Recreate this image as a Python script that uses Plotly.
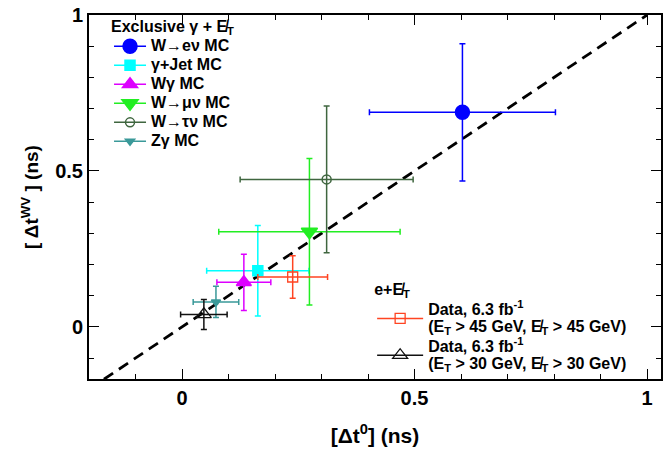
import plotly.graph_objects as go

# MC samples (Exclusive gamma + MET)
mc_names = ["W→eν MC", "γ+Jet MC", "Wγ MC", "W→μν MC", "W→τν MC", "Zγ MC"]
mc_x = [0.603, 0.163, 0.133, 0.274, 0.311, 0.073]
mc_y = [0.688, 0.180, 0.143, 0.305, 0.473, 0.080]
mc_xerr = [0.200, 0.110, 0.058, 0.195, 0.186, 0.049]
mc_yerr = [0.220, 0.145, 0.090, 0.235, 0.235, 0.050]
mc_colors = ["#0000ff", "#00ffff", "#dd00ff", "#22ee22", "#3f663f", "#3a9999"]
mc_symbols = ["circle", "square", "triangle-up", "triangle-down", "circle-open", "triangle-down"]
mc_sizes = [14, 10, 13, 14, 9, 8]

# Data (e + MET)
data_lines1 = ["Data, 6.3 fb<sup>-1</sup>", "Data, 6.3 fb<sup>-1</sup>"]
data_lines2 = ["(E<sub>T</sub> > 45 GeV, E̸<sub>T</sub> > 45 GeV)",
               "(E<sub>T</sub> > 30 GeV, E̸<sub>T</sub> > 30 GeV)"]
data_x = [0.238, 0.047]
data_y = [0.160, 0.040]
data_xerr = [0.075, 0.050]
data_yerr = [0.068, 0.048]
data_colors = ["#ff4422", "#111111"]
data_symbols = ["square-open", "triangle-up-open"]
data_sizes = [10, 13]

diag = [-0.2, 1.0]


def big(t, size=16):
    return f'<span style="font-size:{size}px">{t}</span>'


fig = go.Figure()
fig.add_trace(go.Scatter(x=diag, y=diag, mode="lines", showlegend=False,
                         line=dict(color="black", width=2.8, dash="11px,7px")))

for n, x, y, ex, ey, c, s, sz in zip(mc_names, mc_x, mc_y, mc_xerr, mc_yerr,
                                     mc_colors, mc_symbols, mc_sizes):
    fig.add_trace(go.Scatter(
        x=[x], y=[y], mode="lines+markers", name=big(n), legend="legend",
        line=dict(color=c, width=1.5),
        marker=dict(symbol=s, size=sz, color=c, line=dict(color=c, width=1.5)),
        error_x=dict(type="constant", value=ex, color=c, thickness=1.5, width=3),
        error_y=dict(type="constant", value=ey, color=c, thickness=1.5, width=3)))

for l1, l2, x, y, ex, ey, c, s, sz in zip(data_lines1, data_lines2, data_x, data_y,
                                          data_xerr, data_yerr, data_colors,
                                          data_symbols, data_sizes):
    fig.add_trace(go.Scatter(
        x=[x], y=[y], mode="lines+markers", name=big(l1) + "<br>" + big(l2),
        legend="legend2",
        line=dict(color=c, width=1.5),
        marker=dict(symbol=s, size=sz, color=c, line=dict(color=c, width=1.3)),
        error_x=dict(type="constant", value=ex, color=c, thickness=1.5, width=3),
        error_y=dict(type="constant", value=ey, color=c, thickness=1.5, width=3)))

axis_common = dict(showgrid=False, zeroline=False, showline=True, linecolor="black",
                   linewidth=2, mirror="ticks", ticks="inside", ticklen=10,
                   tickcolor="black", tickwidth=1.2, automargin=False,
                   tickfont=dict(size=20, family="Liberation Sans", weight="bold", color="black"),
                   minor=dict(dtick=0.1, ticks="inside", ticklen=5, tickcolor="black", tickwidth=1))

fig.update_layout(
    width=667, height=456,
    margin=dict(l=89, r=6, t=15, b=77),
    plot_bgcolor="white", paper_bgcolor="white",
    font=dict(family="Liberation Sans", weight="bold", color="black", size=14),
    xaxis=dict(range=[-0.2, 1.03], dtick=0.5, tick0=0,
               title=dict(text="[Δt<sup>0</sup>] (ns)", font=dict(size=21, weight="bold"), standoff=20),
               **axis_common),
    yaxis=dict(range=[-0.167, 1.0], dtick=0.5, tick0=0, **axis_common),
    annotations=[dict(text="[ Δt<sup>WV</sup> ] (ns)", xref="paper", yref="paper",
                      x=-0.103, y=0.5, xanchor="center", yanchor="middle",
                      textangle=-90, showarrow=False,
                      font=dict(size=19, weight="bold", color="black"))],
    legend=dict(x=0.035, y=0.993, xanchor="left", yanchor="top", bgcolor="rgba(0,0,0,0)",
                title=dict(text=big("Exclusive γ + E̸<sub>T</sub>"), font=dict(size=11, weight="bold")),
                font=dict(size=11, weight="bold"), tracegroupgap=0, itemwidth=32),
    legend2=dict(x=0.495, y=0.27, xanchor="left", yanchor="top", bgcolor="rgba(0,0,0,0)",
                 title=dict(text=big("e+E̸<sub>T</sub>"), font=dict(size=11, weight="bold")),
                 font=dict(size=13, weight="bold"), itemwidth=46),
)

fig.write_html("out.html", post_script="document.body.style.margin='0px';",
               config={"displayModeBar": False})
